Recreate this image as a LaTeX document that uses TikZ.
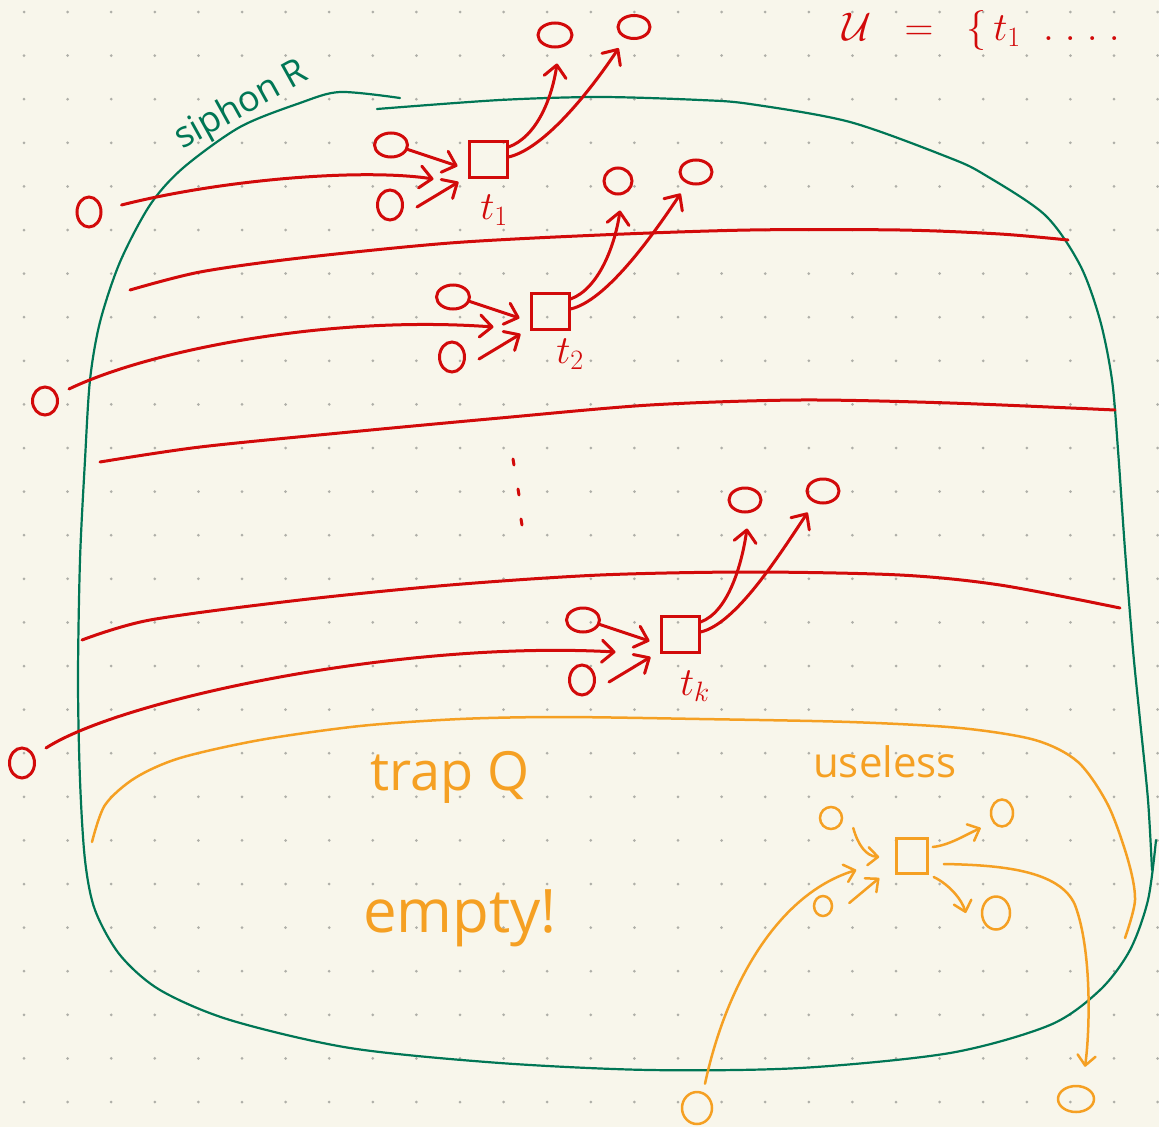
\documentclass[tikz,border=0pt]{standalone}
\usepackage{fix-cm}
\usepackage{fontspec}
\setmainfont{Open Sans}
\usetikzlibrary{shapes.geometric,arrows.meta}
\definecolor{bgc}{RGB}{248,246,235}
\definecolor{dotc}{RGB}{175,175,168}
\definecolor{rd}{RGB}{210,10,10}
\definecolor{gr}{RGB}{0,118,85}
\definecolor{org}{RGB}{245,160,35}
\tikzset{
 redline/.style={draw=rd, line width=3pt, line cap=round, line join=round},
 grline/.style={draw=gr, line width=2.2pt, line cap=round},
 orline/.style={draw=org, line width=2.5pt, line cap=round, line join=round},
 arr/.style={-{Straight Barb[length=12pt,width=22pt,round]}},
 arro/.style={-{Straight Barb[length=10pt,width=18pt,round]}},
 rplace/.style={ellipse, draw=rd, line width=3pt, inner sep=0pt},
 oplace/.style={ellipse, draw=org, line width=2.5pt, inner sep=0pt},
 rtrans/.style={rectangle, draw=rd, line width=3pt, inner sep=0pt, minimum width=38pt, minimum height=36pt},
 otrans/.style={rectangle, draw=org, line width=2.5pt, inner sep=0pt, minimum width=31pt, minimum height=35pt},
 rlabel/.style={text=rd, font=\fontsize{40}{42}\selectfont, inner sep=0pt},
}
% #1 name, #2 dx, #3 dy, #4 label, #5 label x, #6 label y
\newcommand{\tgroup}[6]{%
\begin{scope}[shift={(#2,#3)}]
\node[rtrans] (#1) at (488,159) {};
\node[rplace, minimum width=33pt, minimum height=24pt] (#1i) at (391,145) {};
\node[rplace, minimum width=25pt, minimum height=30pt] (#1j) at (390,205) {};
\end{scope}
\node[rlabel] (#1l) at (#5,#6) {$#4$};
\draw[redline,arr] (#1i.-15) -- ([shift={(-10,7)}]#1.west);
\draw[redline,arr] ([shift={(13,2)}]#1j.east) -- ([shift={(-9,23)}]#1.west);
\draw[redline,arr] ([shift={(0,-12)}]#1.east) .. controls +(28,-10) and +(-5,35) .. ([shift={(2,15)}]#1o.south);
\draw[redline,arr] ([shift={(0,-2)}]#1.east) .. controls +(35,-8) and +(-30,45) .. ([shift={(-3,12)}]#1p.south west);
}
\begin{document}
\begin{tikzpicture}[x=1pt,y=-1pt]
\useasboundingbox (0,0) rectangle (1159,1127);
\fill[bgc] (0,0) rectangle (1159,1127);
\foreach \i in {0,...,26}{\foreach \j in {0,...,25}{\fill[dotc] ({24+43.6*\i},{12+43.6*\j}) circle[radius=1.5pt];}}

% title
\node[text=rd, font=\fontsize{40}{42}\selectfont, anchor=west, inner sep=0pt] (uset) at (842,30) {$\mathcal{U}\;\;=\;\;\{\,t_1\;\;.\;.\;.\;.$};

% siphon outline
\node[text=gr, font=\fontsize{36}{38}\selectfont, rotate=29, inner sep=0pt] (siph) at (242,106) {siphon R};
\draw[grline] plot[smooth] coordinates {(400,98) (340,92) (300,103) (240,127) (183,168) (150,205) (120,262) (100,322) (90,380) (85,460) (80,560) (78,680) (80,780) (85,860) (95,910) (120,955) (160,990) (230,1020) (350,1048) (500,1063) (650,1070) (800,1068) (950,1053) (1050,1025) (1100,990) (1130,950) (1148,900) (1156,840)};
\draw[grline] plot[smooth] coordinates {(1152,870) (1148,800) (1140,720) (1133,650) (1125,550) (1118,450) (1112,380) (1100,320) (1080,265) (1045,215) (985,175) (950,158) (850,122) (750,104) (700,100) (600,97) (500,100) (377,109)};

% red separating lines
\draw[redline] plot[smooth] coordinates {(130,290) (200,272) (300,258) (450,243) (600,235) (750,230) (900,230) (1000,234) (1068,240)};
\draw[redline] plot[smooth] coordinates {(100,462) (200,447) (350,432) (500,418) (650,405) (800,400) (950,403) (1115,410)};
\draw[redline] plot[smooth] coordinates {(82,640) (150,620) (300,600) (450,585) (600,575) (750,572) (900,575) (1000,585) (1120,608)};

% vertical dots
\draw[redline] (513,459) -- (514,465);
\draw[redline] (518,489) -- (519,495);
\draw[redline] (521,519) -- (522,525);

% far-left places
\node[rplace, minimum width=24pt, minimum height=30pt] (p0) at (89,212) {};
\node[rplace, minimum width=25pt, minimum height=28pt] (p2) at (45,401) {};
\node[rplace, minimum width=25pt, minimum height=30pt] (p3) at (22,763) {};

% output places
\node[rplace, minimum width=34pt, minimum height=24pt] (t1o) at (555,35) {};
\node[rplace, minimum width=32pt, minimum height=23pt] (t1p) at (634,27) {};
\node[rplace, minimum width=28pt, minimum height=26pt] (t2o) at (618,181) {};
\node[rplace, minimum width=32pt, minimum height=24pt] (t2p) at (696,172) {};
\node[rplace, minimum width=32pt, minimum height=24pt] (tko) at (745,500) {};
\node[rplace, minimum width=32pt, minimum height=24pt] (tkp) at (823,491) {};

\tgroup{t1}{0}{0}{t_1}{494}{210}
\tgroup{t2}{62}{152}{t_2}{570}{354}
\tgroup{tk}{192}{475}{t_k}{695}{686}

\draw[redline,arr] ([shift={(19,-7)}]p0.east) .. controls (220,180) and (360,168) .. ([shift={(-34,20)}]t1.west);
\draw[redline,arr] ([shift={(10,-12)}]p2.east) .. controls (150,350) and (330,315) .. ([shift={(-36,16)}]t2.west);
\draw[redline,arr] ([shift={(10,-15)}]p3.east) .. controls (120,700) and (400,640) .. ([shift={(-44,18)}]tk.west);

% trap Q
\draw[orline] plot[smooth] coordinates {(92,842) (105,805) (135,778) (180,758) (260,740) (360,726) (460,719) (560,717) (700,719) (850,722) (960,728) (1035,740) (1078,762) (1108,805) (1128,860) (1135,900) (1125,938)};
\node[text=org, font=\fontsize{54}{56}\selectfont, inner sep=0pt] (trapq) at (450,777) {trap Q};
\node[text=org, font=\fontsize{60}{62}\selectfont, inner sep=0pt] (empt) at (460,918) {empty!};
\node[text=org, font=\fontsize{42}{44}\selectfont, inner sep=0pt] (usel) at (885,762) {useless};

% useless transition
\node[otrans] (u) at (912,856) {};
\node[oplace, minimum width=22pt, minimum height=22pt] (ua) at (831,818) {};
\node[oplace, minimum width=18pt, minimum height=20pt] (ub) at (823,906) {};
\node[oplace, minimum width=30pt, minimum height=32pt] (uc) at (697,1108) {};
\node[oplace, minimum width=22pt, minimum height=27pt] (ud) at (1002,813) {};
\node[oplace, minimum width=28pt, minimum height=33pt] (ue) at (996,913) {};
\node[oplace, minimum width=36pt, minimum height=26pt] (uf) at (1076,1099) {};

\draw[orline,arro] ([shift={(10,10)}]ua.east) .. controls (858,845) and (866,856) .. ([shift={(-16,1)}]u.west);
\draw[orline,arro] ([shift={(16,-3)}]ub.east) -- ([shift={(-16,22)}]u.west);
\draw[orline,arro] ([shift={(8,-7)}]uc.north) .. controls (725,990) and (775,895) .. ([shift={(-39,14)}]u.west);
\draw[orline,arro] ([shift={(4,-9)}]u.east) .. controls (950,845) and (965,835) .. ([shift={(-9,15)}]ud.west);
\draw[orline,arro] ([shift={(5,21)}]u.east) .. controls (950,885) and (962,900) .. ([shift={(-15,0)}]ue.west);
\draw[orline,arro] ([shift={(15,8)}]u.east) .. controls (1000,865) and (1060,870) .. (1075,905) .. controls (1092,950) and (1090,1030) .. ([shift={(9,-18)}]uf.north);
\end{tikzpicture}
\end{document}
